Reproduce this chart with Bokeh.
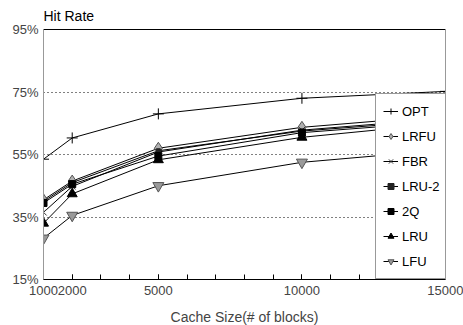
from bokeh.plotting import figure
from bokeh.models import (FixedTicker, PrintfTickFormatter, LinearAxis, Legend)
from bokeh.embed import file_html
from bokeh.resources import INLINE

cache_sizes = [1000, 2000, 5000, 10000, 15000]
opt = [53.5, 60.3, 68.0, 73.0, 75.2]
lrfu = [40.5, 46.5, 57.0, 63.7, 67.5]
fbr = [36.5, 44.8, 55.8, 62.8, 66.5]
lru2 = [40.0, 46.0, 56.2, 62.5, 66.0]
twoq = [39.5, 45.5, 54.5, 62.0, 65.5]
lru = [33.0, 42.4, 53.3, 60.5, 65.0]
lfu = [28.2, 35.5, 45.0, 52.5, 56.5]

x_ticks = [1000, 2000, 5000, 10000, 15000]
x_minor = list(range(1000, 15001, 1000))
y_ticks = [15, 35, 55, 75, 95]
grid_ticks = [35, 55, 75]

FONT = "Liberation Sans"

p = figure(frame_width=402, frame_height=250, output_backend="svg", toolbar_location=None,
           x_range=(1000, 15000), y_range=(15, 95),
           min_border_left=43, min_border_right=18, min_border_top=29, min_border_bottom=46,
           title="Hit Rate")
p.outline_line_color = None
p.background_fill_color = "white"
p.title.align = "left"
p.title.text_font = FONT
p.title.text_font_size = "14px"
p.title.text_font_style = "normal"
p.title.text_color = "black"
p.title.standoff = 11
p.title.offset = 0

series = [
    ("OPT", opt, dict(marker="cross", size=11, line_color="black", fill_color=None)),
    ("LRFU", lrfu, dict(marker="diamond", size=12, line_color="#555555", fill_color="#b0b0b0")),
    ("FBR", fbr, dict(marker="x", size=9, line_color="#333333", fill_color=None)),
    ("LRU-2", lru2, dict(marker="square", size=4, line_color="#222222", fill_color="#222222")),
    ("2Q", twoq, dict(marker="square", size=7, line_color="black", fill_color="black")),
    ("LRU", lru, dict(marker="triangle", size=10, line_color="black", fill_color="black")),
    ("LFU", lfu, dict(marker="inverted_triangle", size=11, line_color="#555555", fill_color="#9a9a9a")),
]

items = []
for name, vals, style in series:
    r1 = p.line(cache_sizes, vals, line_color="black", line_width=1)
    r2 = p.scatter(cache_sizes, vals, **style)
    items.append((name, [r1, r2]))

legend = Legend(items=items, location=(332, 0))
legend.label_text_font = FONT
legend.label_text_font_size = "13px"
legend.label_text_color = "black"
legend.glyph_width = 15
legend.glyph_height = 20
legend.label_height = 20
legend.spacing = 5
legend.padding = 7
legend.label_standoff = 4
legend.border_line_color = "#333333"
legend.border_line_width = 1
legend.background_fill_color = "white"
legend.background_fill_alpha = 1.0
p.add_layout(legend)

# x axis
xa = p.xaxis[0]
xa.ticker = FixedTicker(ticks=x_ticks, minor_ticks=x_minor)
xa.formatter = PrintfTickFormatter(format="%d")
xa.axis_label = "Cache Size(# of blocks)"
xa.axis_label_text_font = FONT
xa.axis_label_text_font_size = "14px"
xa.axis_label_text_font_style = "normal"
xa.axis_label_standoff = 11
xa.major_label_text_font = FONT
xa.major_label_text_font_size = "13px"
xa.major_label_standoff = 6
xa.major_tick_in = 5
xa.major_tick_out = 0
xa.minor_tick_in = 5
xa.minor_tick_out = 0
xa.axis_line_color = "black"
xa.major_tick_line_color = "black"
xa.minor_tick_line_color = "black"

# y axis
ya = p.yaxis[0]
ya.ticker = FixedTicker(ticks=y_ticks, minor_ticks=[])
ya.formatter = PrintfTickFormatter(format="%d%%")
ya.major_label_text_font = FONT
ya.major_label_text_font_size = "13px"
ya.major_label_standoff = 5
ya.major_tick_in = 0
ya.major_tick_out = 0
ya.axis_line_color = "#999999"

# borders
top = LinearAxis(ticker=FixedTicker(ticks=[]), axis_line_color="black",
                 major_tick_line_color=None, minor_tick_line_color=None,
                 major_label_text_font_size="0px", major_label_standoff=0,
                 major_tick_out=0, major_tick_in=0)
p.add_layout(top, "above")
right = LinearAxis(ticker=FixedTicker(ticks=[]), axis_line_color="#999999",
                   major_tick_line_color=None, minor_tick_line_color=None,
                   major_label_text_font_size="0px", major_label_standoff=0,
                   major_tick_out=0, major_tick_in=0)
p.add_layout(right, "right")

p.xgrid.grid_line_color = None
p.ygrid.ticker = FixedTicker(ticks=grid_ticks)
p.ygrid.grid_line_color = "black"
p.ygrid.grid_line_dash = "1 3"
p.ygrid.grid_line_width = 1

open("out.html", "w").write(file_html(p, INLINE))
